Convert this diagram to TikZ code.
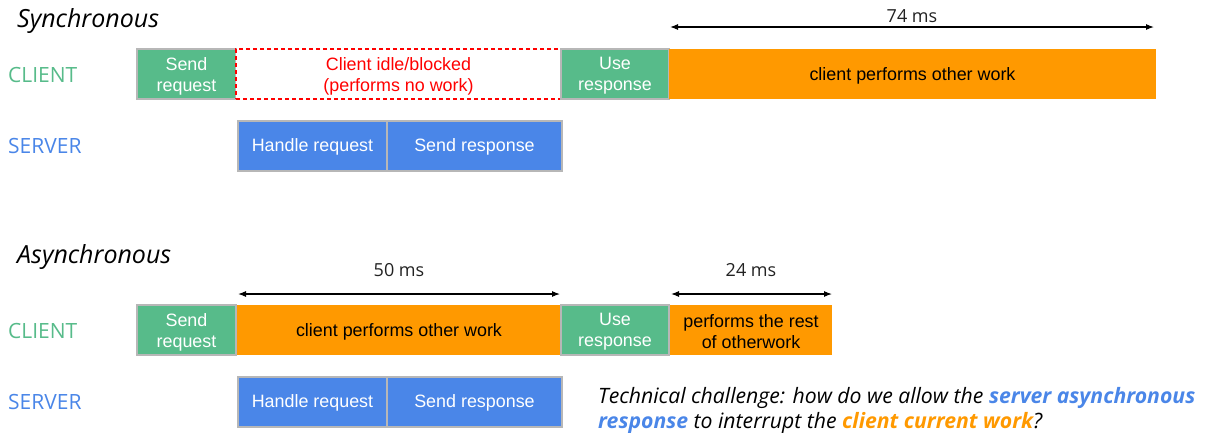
\documentclass[tikz,border=0pt]{standalone}
\usepackage{fontspec}
\setmainfont{Liberation Sans}
\newfontfamily\osans{Open Sans}
\usetikzlibrary{arrows.meta}
\definecolor{gGreen}{HTML}{57BB8A}
\definecolor{gBlue}{HTML}{4A86E8}
\definecolor{gOrange}{HTML}{FF9900}
\definecolor{gBorder}{HTML}{B7B7B7}
\definecolor{gRed}{HTML}{FF0000}
\definecolor{gText}{HTML}{222222}
\begin{document}
\begin{tikzpicture}[x=1pt,y=-1pt,
  box/.style={line width=1.3pt, minimum height=50pt, inner sep=0pt},
  greenbox/.style={box, draw=gBorder, fill=gGreen},
  bluebox/.style={box, draw=gBorder, fill=gBlue},
  orangebox/.style={box, fill=gOrange},
  idlebox/.style={box, draw=gRed, dashed, dash pattern=on 4pt off 3pt, fill=white},
  boxtext/.style={inner sep=0pt, align=center, font=\fontsize{17.9}{21}\selectfont},
  rowlabel/.style={anchor=base west, inner sep=0pt, font=\osans\fontsize{21}{24}\selectfont},
  title/.style={anchor=base west, inner sep=0pt, font=\osans\itshape\fontsize{25}{28}\selectfont},
  dimlabel/.style={anchor=base, inner sep=0pt, text=gText, font=\osans\fontsize{18}{20}\selectfont},
  challenge/.style={anchor=base west, inner sep=0pt, text=black, font=\osans\itshape\fontsize{21.2}{24}\selectfont},
  dim/.style={line width=1.1pt, {Latex[length=8pt,width=6pt]}-{Latex[length=8pt,width=6pt]}}
]
\useasboundingbox (0,0) rectangle (1213,432);

% ---------- Synchronous ----------
\node[title] (tsync) at (17,27) {Synchronous};
\node[rowlabel, text=gGreen] (lc1) at (8,82) {CLIENT};
\node[rowlabel, text=gBlue] (ls1) at (8,153) {SERVER};

\node[greenbox, minimum width=99pt] (sreq1) at (186.5,74) {};
\node[boxtext, text=white] (sreq1t) at ([yshift=-2pt]sreq1.center) {Send\\request};
\node[idlebox, minimum width=325pt] (idle) at (398.5,74) {};
\node[boxtext, text=gRed] (idlet) at ([yshift=-2pt]idle.center) {Client idle/blocked\\(performs no work)};
\node[greenbox, minimum width=108pt] (use1) at (615,74) {};
\node[boxtext, text=white] (use1t) at ([yshift=-2pt]use1.center) {Use\\response};
\node[orangebox, minimum width=487pt] (other1) at (912.5,74) {};
\node[boxtext, text=black] (other1t) at ([yshift=-2pt]other1.center) {client performs other work};

\node[bluebox, minimum width=149pt] (hr1) at (312.5,146) {};
\node[boxtext, text=white] (hr1t) at ([yshift=-1pt]hr1.center) {Handle request};
\node[bluebox, minimum width=175pt] (sr1) at (474.5,146) {};
\node[boxtext, text=white] (sr1t) at ([yshift=-1pt]sr1.center) {Send response};

\coordinate (a74l) at (670,27);
\coordinate (a74r) at (1154,27);
\draw[dim] (a74l) -- (a74r);
\node[dimlabel] (l74) at (912,22) {74 ms};

% ---------- Asynchronous ----------
\node[title] (tasync) at (17,263) {Asynchronous};
\node[rowlabel, text=gGreen] (lc2) at (8,338) {CLIENT};
\node[rowlabel, text=gBlue] (ls2) at (8,409) {SERVER};

\node[greenbox, minimum width=99pt] (sreq2) at (186.5,330) {};
\node[boxtext, text=white] (sreq2t) at ([yshift=-2pt]sreq2.center) {Send\\request};
\node[orangebox, minimum width=324pt] (other2) at (399,330) {};
\node[boxtext, text=black] (other2t) at ([yshift=-2pt]other2.center) {client performs other work};
\node[greenbox, minimum width=108pt] (use2) at (615,330) {};
\node[boxtext, text=white] (use2t) at ([yshift=-2pt]use2.center) {Use\\response};
\node[orangebox, minimum width=162pt] (rest2) at (751,330) {};
\node[boxtext, text=black] (rest2t) at ([yshift=-2pt]rest2.center) {performs the rest\\of otherwork};

\node[bluebox, minimum width=149pt] (hr2) at (312.5,402) {};
\node[boxtext, text=white] (hr2t) at ([yshift=-1pt]hr2.center) {Handle request};
\node[bluebox, minimum width=175pt] (sr2) at (474.5,402) {};
\node[boxtext, text=white] (sr2t) at ([yshift=-1pt]sr2.center) {Send response};

\coordinate (a50l) at (238,294);
\coordinate (a50r) at (560,294);
\draw[dim] (a50l) -- (a50r);
\node[dimlabel] (l50) at (399,276) {50 ms};

\coordinate (a24l) at (671,294);
\coordinate (a24r) at (832,294);
\draw[dim] (a24l) -- (a24r);
\node[dimlabel] (l24) at (751,276) {24 ms};

% ---------- Challenge text ----------
\node[challenge] (ch1) at (598,403)
  {Technical challenge: how do we allow the \textcolor{gBlue}{\bfseries server asynchronous}};
\node[challenge] (ch2) at (598,428)
  {\textcolor{gBlue}{\bfseries response} to interrupt the \textcolor{gOrange}{\bfseries client current work}?};
\end{tikzpicture}
\end{document}
